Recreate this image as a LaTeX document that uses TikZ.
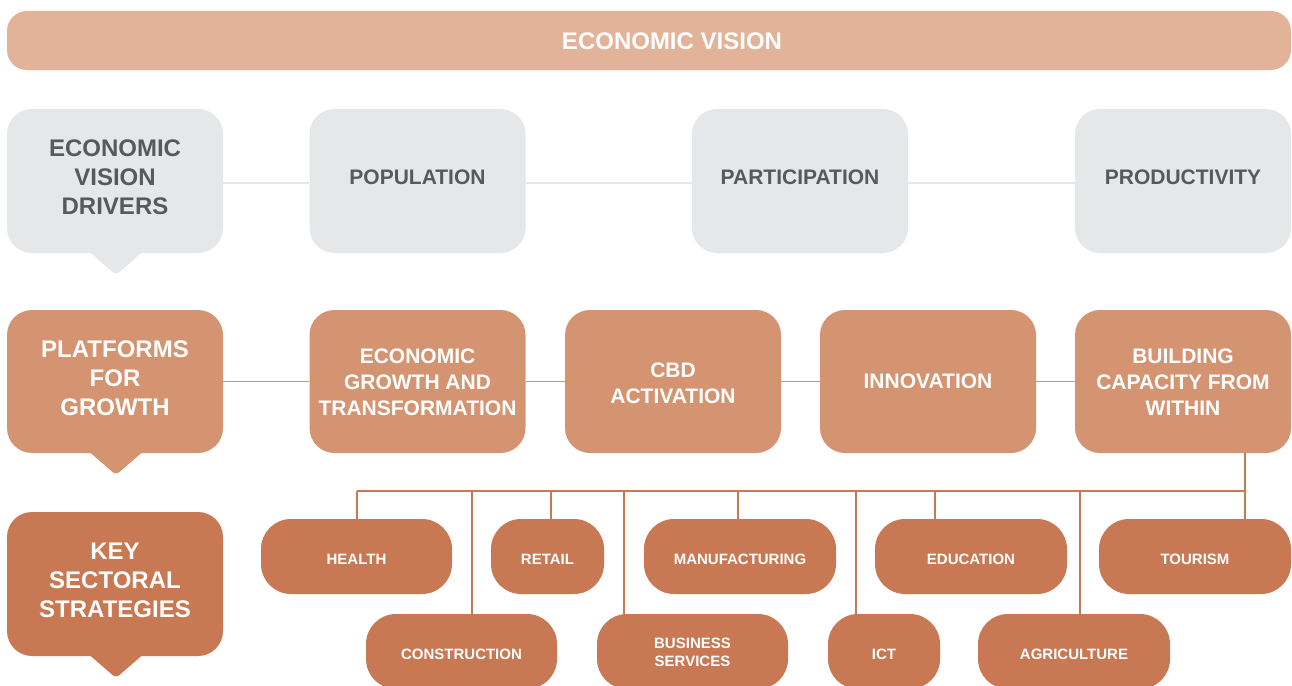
\documentclass[tikz,border=0pt]{standalone}
\usepackage{fontspec}
\setmainfont{Liberation Sans}
\definecolor{banner}{HTML}{E2B399}
\definecolor{greybox}{HTML}{E6E7E8}
\definecolor{greytext}{HTML}{58595B}
\definecolor{midor}{HTML}{D49472}
\definecolor{darkor}{HTML}{C87852}
\tikzset{
  box/.style={rectangle, rounded corners=25pt, inner sep=0pt},
  txt/.style={inner sep=0pt, align=center},
  bigtxt/.style={txt, font=\bfseries\fontsize{24}{29}\selectfont},
  midtxt/.style={txt, font=\bfseries\fontsize{21}{26}\selectfont},
  smalltxt/.style={txt, text=white, font=\bfseries\fontsize{15}{18}\selectfont},
  greyb/.style={box, fill=greybox, minimum width=216pt, minimum height=144pt},
  orb/.style={box, fill=midor, minimum width=216pt, minimum height=143pt},
  keyb/.style={box, fill=darkor, minimum width=216pt, minimum height=144pt},
  sect/.style={box, fill=darkor, rounded corners=30pt, minimum height=75pt},
  greyline/.style={draw=greybox, line width=1.5pt},
  orline/.style={draw=midor, line width=1.5pt},
  treeline/.style={draw=darkor, line width=1.3pt},
}
\begin{document}
\begin{tikzpicture}[x=1pt,y=-1pt]
\useasboundingbox (0,0) rectangle (1292,685);
\clip (0,0) rectangle (1292,685);
% banner
\node[box, rounded corners=20pt, fill=banner, minimum width=1284pt, minimum height=59pt] (vision) at (649,40.5) {};
\node[txt, text=white, font=\bfseries\fontsize{24}{28}\selectfont] (visionT) at ([xshift=23pt,yshift=-1pt]vision.center) {ECONOMIC VISION};
% pointers
\fill[greybox, rounded corners=4pt] (86,249) -- (116,275) -- (146,249) -- cycle;
\fill[midor, rounded corners=4pt] (86,449) -- (116,475) -- (146,449) -- cycle;
\fill[darkor, rounded corners=4pt] (86,652) -- (116,678) -- (146,652) -- cycle;
% row 1
\node[greyb] (drivers) at (115,181) {};
\node[greyb] (pop) at (417.5,181) {};
\node[greyb] (part) at (800,181) {};
\node[greyb] (prod) at (1183,181) {};
\node[bigtxt, text=greytext] (driversT) at ([yshift=4pt]drivers.center) {ECONOMIC\\VISION\\DRIVERS};
\node[midtxt, text=greytext] (popT) at ([yshift=4pt]pop.center) {POPULATION};
\node[midtxt, text=greytext] (partT) at ([yshift=4pt]part.center) {PARTICIPATION};
\node[midtxt, text=greytext] (prodT) at ([yshift=4pt]prod.center) {PRODUCTIVITY};
\draw[greyline] ([yshift=-2pt]drivers.east) -- ([yshift=-2pt]pop.west);
\draw[greyline] ([yshift=-2pt]pop.east) -- ([yshift=-2pt]part.west);
\draw[greyline] ([yshift=-2pt]part.east) -- ([yshift=-2pt]prod.west);
% row 2
\node[orb] (plat) at (115,381.5) {};
\node[orb] (egt) at (417.5,381.5) {};
\node[orb] (cbd) at (673,381.5) {};
\node[orb] (innov) at (928,381.5) {};
\node[orb] (build) at (1183,381.5) {};
\node[bigtxt, text=white] (platT) at ([yshift=3pt]plat.center) {PLATFORMS\\FOR\\GROWTH};
\node[midtxt, text=white] (egtT) at ([yshift=-1pt]egt.center) {ECONOMIC\\GROWTH AND\\TRANSFORMATION};
\node[midtxt, text=white] (cbdT) at ([yshift=-2pt]cbd.center) {CBD\\ACTIVATION};
\node[midtxt, text=white] (innovT) at (innov.center) {INNOVATION};
\node[midtxt, text=white] (buildT) at ([yshift=-1pt]build.center) {BUILDING\\CAPACITY FROM\\WITHIN};
\draw[orline] (plat.east) -- (egt.west);
\draw[orline] (egt.east) -- (cbd.west);
\draw[orline] (cbd.east) -- (innov.west);
\draw[orline] (innov.east) -- (build.west);
% row 3
\node[keyb] (key) at (115,584) {};
\node[bigtxt, text=white] (keyT) at ([yshift=4pt]key.center) {KEY\\SECTORAL\\STRATEGIES};
\node[sect, minimum width=191pt] (health) at (356.5,556.5) {};
\node[sect, minimum width=113pt] (retail) at (547.5,556.5) {};
\node[sect, minimum width=192pt] (manuf) at (740,556.5) {};
\node[sect, minimum width=192pt] (educ) at (971,556.5) {};
\node[sect, minimum width=192pt] (tour) at (1195,556.5) {};
\node[sect, minimum width=191pt] (constr) at (461.5,651.5) {};
\node[sect, minimum width=191pt] (bus) at (692.5,651.5) {};
\node[sect, minimum width=112pt] (ict) at (884,651.5) {};
\node[sect, minimum width=192pt] (agri) at (1074,651.5) {};
\node[smalltxt] (healthT) at ([yshift=-3pt]health.center) {HEALTH};
\node[smalltxt] (retailT) at ([yshift=-3pt]retail.center) {RETAIL};
\node[smalltxt] (manufT) at ([yshift=-3pt]manuf.center) {MANUFACTURING};
\node[smalltxt] (educT) at ([yshift=-3pt]educ.center) {EDUCATION};
\node[smalltxt] (tourT) at ([yshift=-3pt]tour.center) {TOURISM};
\node[smalltxt] (constrT) at ([yshift=-3pt]constr.center) {CONSTRUCTION};
\node[smalltxt] (busT) at ([yshift=-1pt]bus.center) {BUSINESS\\SERVICES};
\node[smalltxt] (ictT) at ([yshift=-3pt]ict.center) {ICT};
\node[smalltxt] (agriT) at ([yshift=-3pt]agri.center) {AGRICULTURE};
% tree
\coordinate (busL) at (357,491);
\coordinate (busR) at (1245,491);
\coordinate (dCon) at (472,491);
\coordinate (dRet) at (551,491);
\coordinate (dBus) at (624,491);
\coordinate (dMan) at (738,491);
\coordinate (dIct) at (856,491);
\coordinate (dEdu) at (935,491);
\coordinate (dAgr) at (1080,491);
\draw[treeline] (busL) -- (busR);
\draw[treeline] (build.south -| busR) -- (tour.north -| busR);
\draw[treeline] (busL) -- (busL |- health.north);
\draw[treeline] (dCon) -- (dCon |- constr.north);
\draw[treeline] (dRet) -- (dRet |- retail.north);
\draw[treeline] (dBus) -- (dBus |- bus.north);
\draw[treeline] (dMan) -- (dMan |- manuf.north);
\draw[treeline] (dIct) -- (dIct |- ict.north);
\draw[treeline] (dEdu) -- (dEdu |- educ.north);
\draw[treeline] (dAgr) -- (dAgr |- agri.north);
\end{tikzpicture}
\end{document}
